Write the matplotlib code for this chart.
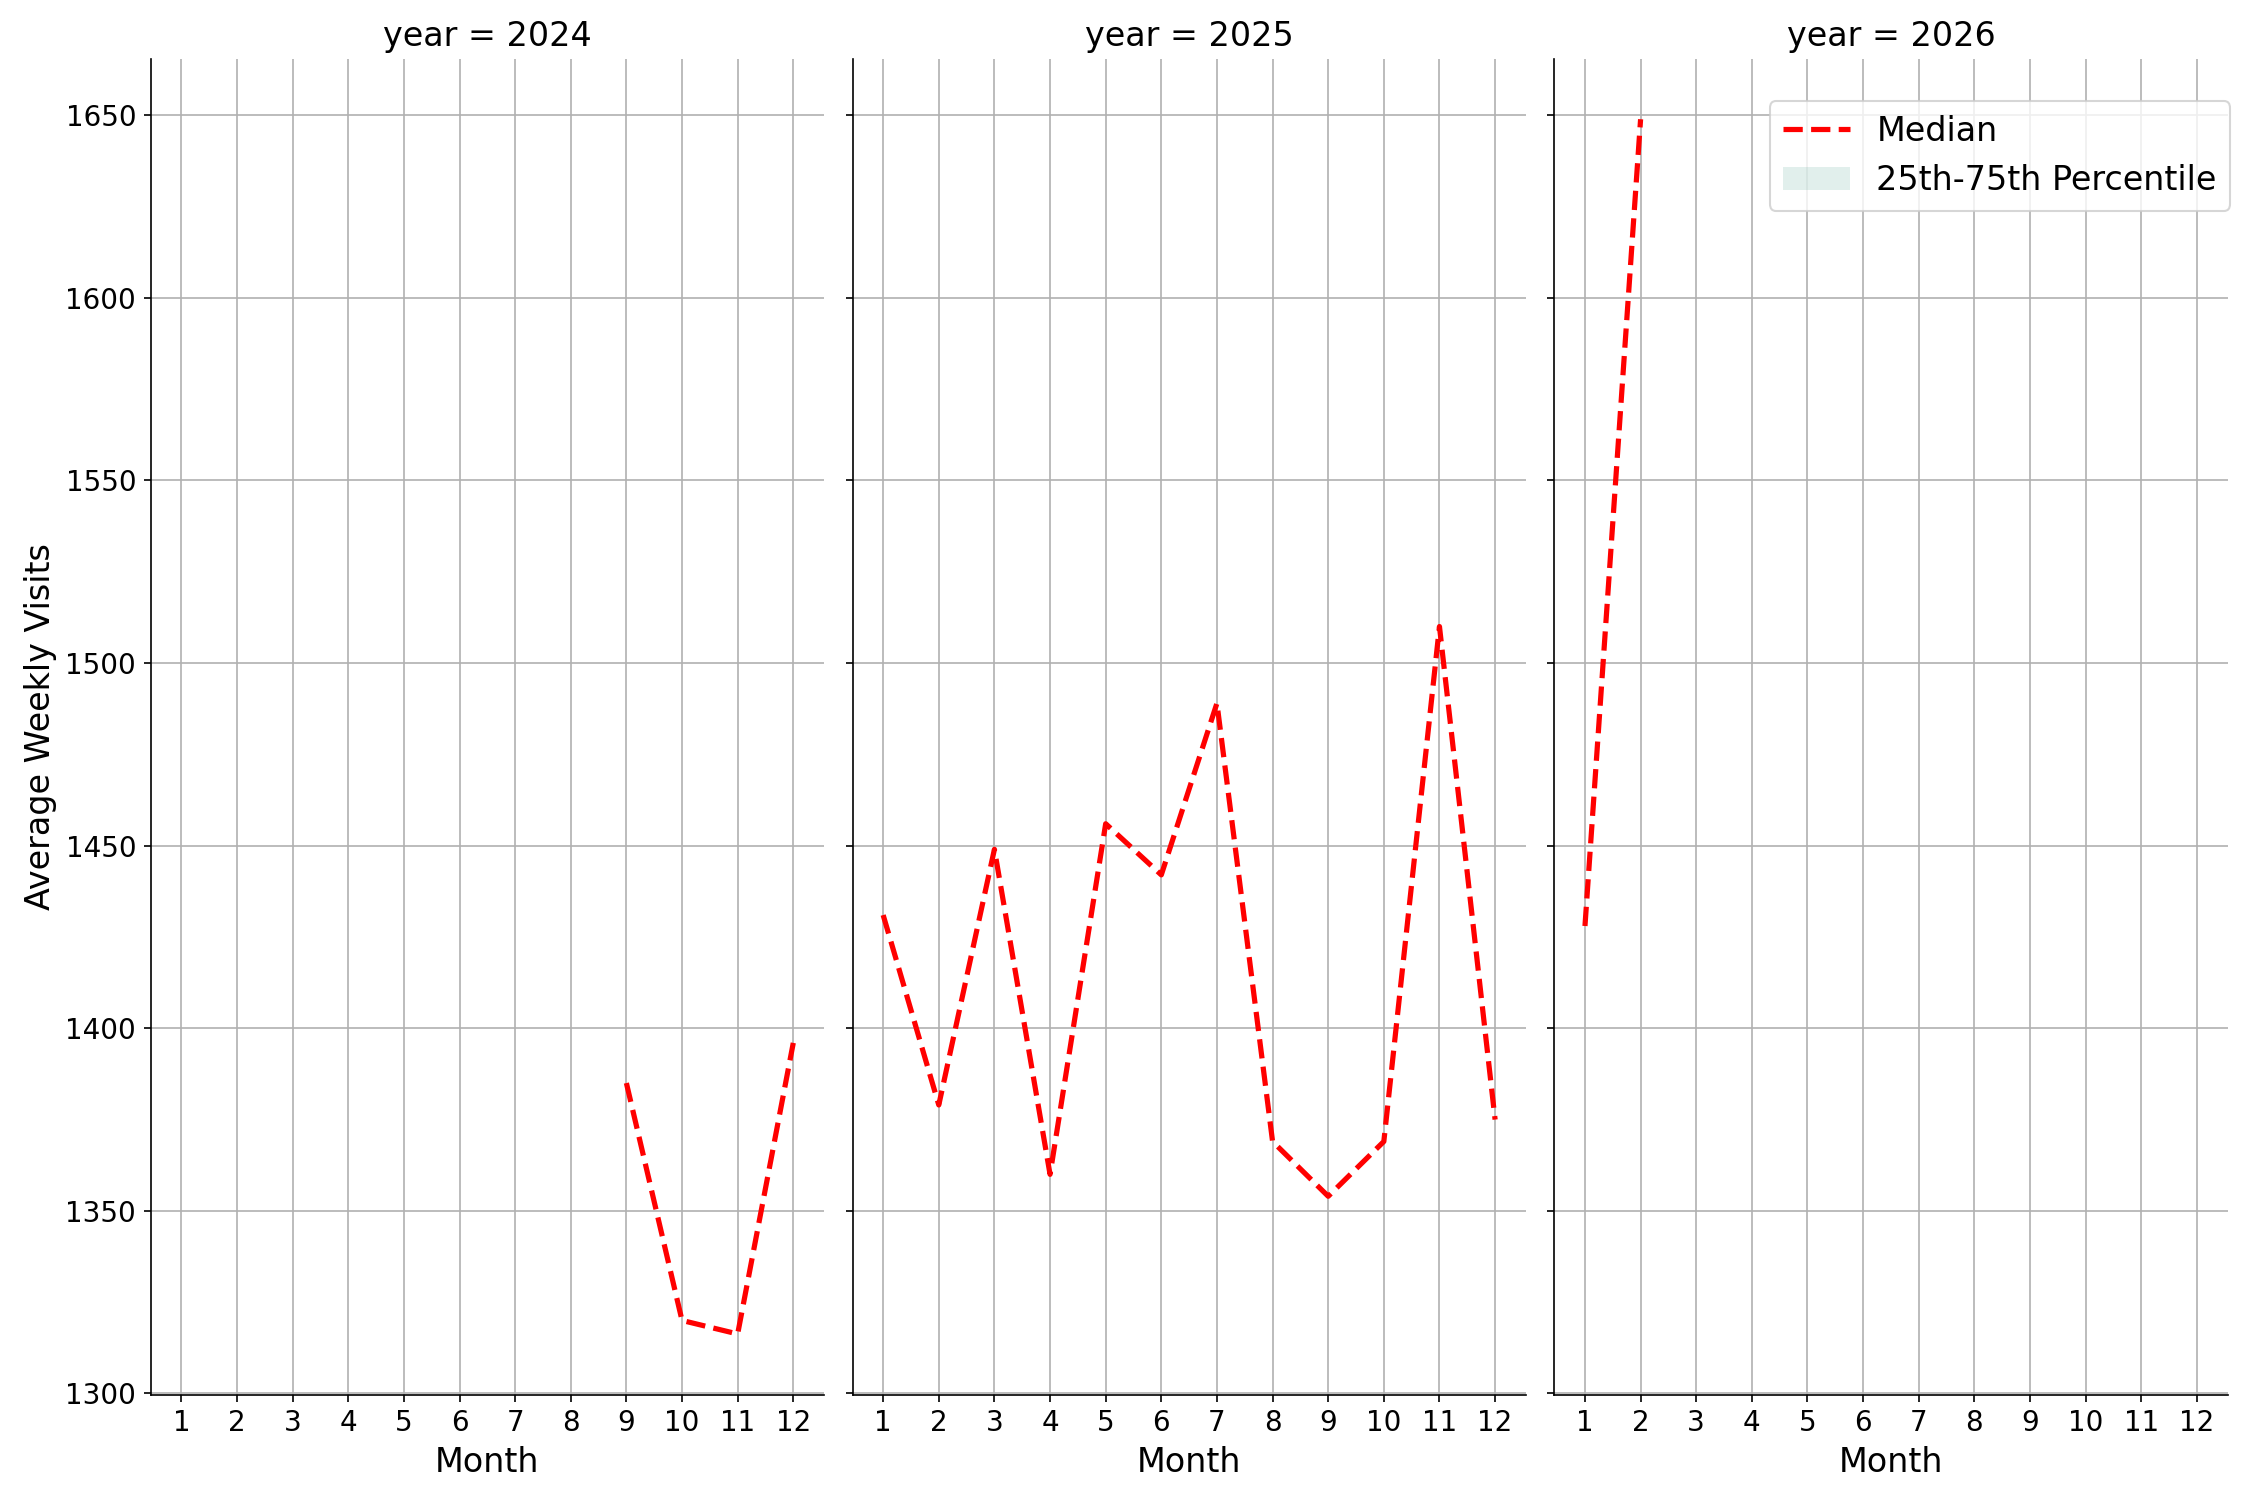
import matplotlib
matplotlib.use("Agg")
import matplotlib.pyplot as plt
from matplotlib.patches import Patch
import numpy as np

# monthly median of average weekly visits, per year
years = [2024, 2025, 2026]
months_2024 = [9, 10, 11, 12]
median_2024 = [1385, 1320, 1316.3, 1396]
months_2025 = [1, 2, 3, 4, 5, 6, 7, 8, 9, 10, 11, 12]
median_2025 = [1431, 1379, 1449, 1360, 1456, 1442, 1489, 1369, 1354, 1369, 1510, 1375]
months_2026 = [1, 2]
median_2026 = [1428, 1648.9]

series = {2024: (months_2024, median_2024),
          2025: (months_2025, median_2025),
          2026: (months_2026, median_2026)}

band_color = "#69b3a2"

fig, axes = plt.subplots(1, 3, figsize=(15, 10), sharex=True, sharey=True)
fig.subplots_adjust(left=0.067, right=0.990, bottom=0.0702, top=0.961, wspace=0.0426)

for ax, yr in zip(axes, years):
    m, med = series[yr]
    ax.plot(m, med, color="red", linestyle="--", linewidth=2.5)
    ax.set_title(f"year = {yr}", fontsize=16)
    ax.set_xlabel("Month", fontsize=16)
    ax.set_xticks(range(1, 13))
    ax.grid(True)
    ax.spines["top"].set_visible(False)
    ax.spines["right"].set_visible(False)
    ax.tick_params(labelsize=13.3)

axes[0].set_ylabel("Average Weekly Visits", fontsize=16)
for ax in axes[1:]:
    ax.tick_params(labelleft=False)

handles = [plt.Line2D([], [], color="red", linestyle="--", linewidth=2.5, label="Median"),
           Patch(facecolor=band_color, alpha=0.2, label="25th-75th Percentile")]
axes[2].legend(handles=handles, loc="upper right", bbox_to_anchor=(1.004, 0.968),
               borderaxespad=0, fontsize=16)

fig.savefig("out.png", dpi=150)
